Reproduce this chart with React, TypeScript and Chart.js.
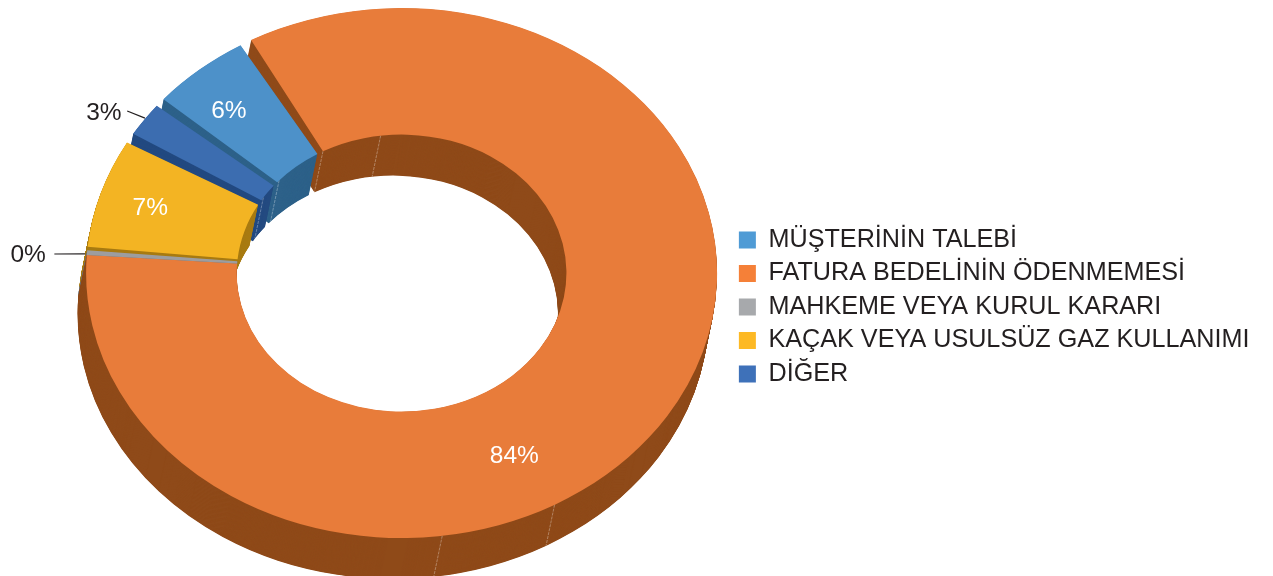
import React, { useEffect, useRef } from "react";
import { Chart, registerables } from "chart.js";

Chart.register(...registerables);

const categories = [
  "MÜŞTERİNİN TALEBİ",
  "FATURA BEDELİNİN ÖDENMEMESİ",
  "MAHKEME VEYA KURUL KARARI",
  "KAÇAK VEYA USULSÜZ GAZ KULLANIMI",
  "DİĞER",
];
const shareValues = [6, 84, 0.4, 7, 2.6];

const faceColors = ["#4d91c9", "#e87c3a", "#9d9d9f", "#f3b423", "#3c6db0"];
const wallColors = ["#2d6189", "#8f4a19", "#6f6f71", "#a87b12", "#234a80"];
const legendColors = ["#4f9bd5", "#f58038", "#a7a9ac", "#fdb924", "#3e71b9"];

// Display geometry of the tilted ring (pixels)
const CENTER_X = 401.6;
const CENTER_Y = 273;
const RADIUS_X = 315.5;
const RADIUS_Y = 265;
const DEPTH_X = -8.5;
const DEPTH_Y = 41;
const FIRST_SLICE_DEG = -50.1;

// Each slice's edges are pulled in a little, degrees: [start, end]
const sliceInsets = [
  [1.1, 2.2],
  [0, 0],
  [0, 0.44],
  [0.36, 1.04],
  [1.15, 0.8],
];

// Label places in ring coordinates: degrees clockwise from top, fraction of outer radius
const labelAngles = [-41.5, 152.4, -86.5, -72.6, -57.1];
const labelRadii = [0.826, 0.771, 1.186, 0.835, 1.124];
const labelColors = ["#ffffff", "#ffffff", "#231f20", "#ffffff", "#231f20"];
const leaderLines = [
  { angle1: -86.27, radius1: 1.103, angle2: -85.9, radius2: 1.0056 },
  { angle1: -54.9, radius1: 1.063, angle2: -54.3, radius2: 1.0016 },
];
// Thin seams on the walls: degrees, and which rim they start on
const wallSeams = [
  { angle: -7.3, rim: "inner" },
  { angle: -28.5, rim: "inner" },
  { angle: -48, rim: "inner" },
  { angle: -57, rim: "inner" },
  { angle: 151, rim: "outer" },
  { angle: 172.6, rim: "outer" },
];

const INNER_FRACTION = 0.5225;
const FONT = '"Liberation Sans", Arial, sans-serif';

function ringPoint(deg: number, fraction: number) {
  const a = ((deg - 90) * Math.PI) / 180;
  return {
    x: CENTER_X + Math.cos(a) * fraction * RADIUS_X,
    y: CENTER_Y + Math.sin(a) * fraction * RADIUS_Y,
  };
}

function applyRingTransform(ctx: CanvasRenderingContext2D, el: any) {
  ctx.translate(CENTER_X, CENTER_Y);
  ctx.scale(RADIUS_X / el.outerRadius, RADIUS_Y / el.outerRadius);
  ctx.translate(-el.x, -el.y);
}

const ringPlugin = {
  id: "ring3d",
  afterDatasetsUpdate(chart: any) {
    const arcs = chart.getDatasetMeta(0).data;
    arcs.forEach((el: any, i: number) => {
      const rad = Math.PI / 180;
      el.startAngle += sliceInsets[i][0] * rad;
      el.endAngle -= sliceInsets[i][1] * rad;
      el.circumference = el.endAngle - el.startAngle;
    });
  },
  beforeDatasetsDraw(chart: any) {
    const ctx: CanvasRenderingContext2D = chart.ctx;
    const arcs = chart.getDatasetMeta(0).data;
    const steps = Math.round(DEPTH_Y * 2);
    for (let s = steps; s >= 1; s--) {
      const t = s / steps;
      ctx.save();
      ctx.translate(DEPTH_X * t, DEPTH_Y * t);
      applyRingTransform(ctx, arcs[0]);
      arcs.forEach((el: any, i: number) => {
        const saved = el.options;
        el.options = {
          offset: 0,
          spacing: 0,
          circular: true,
          borderWidth: 0,
          borderRadius: 0,
          borderAlign: "center",
          backgroundColor: wallColors[i],
        };
        el.draw(ctx);
        el.options = saved;
      });
      ctx.restore();
    }
    ctx.save();
    ctx.strokeStyle = "rgba(255,255,255,0.4)";
    ctx.lineWidth = 0.8;
    ctx.setLineDash([3, 1]);
    wallSeams.forEach((seam) => {
      const p = ringPoint(seam.angle, seam.rim === "inner" ? INNER_FRACTION : 1);
      ctx.beginPath();
      ctx.moveTo(p.x, p.y);
      ctx.lineTo(p.x + DEPTH_X, p.y + DEPTH_Y);
      ctx.stroke();
    });
    ctx.restore();
    ctx.save();
    applyRingTransform(ctx, arcs[0]);
  },
  afterDatasetsDraw(chart: any) {
    const ctx: CanvasRenderingContext2D = chart.ctx;
    ctx.restore();
    ctx.save();
    ctx.font = `24.5px ${FONT}`;
    ctx.textAlign = "center";
    ctx.textBaseline = "middle";
    shareValues.forEach((v, i) => {
      const p = ringPoint(labelAngles[i], labelRadii[i]);
      ctx.fillStyle = labelColors[i];
      ctx.fillText(`${Math.round(v)}%`, p.x, p.y + 1.8);
    });
    ctx.strokeStyle = "#231f20";
    ctx.lineWidth = 1.2;
    leaderLines.forEach((l) => {
      const a = ringPoint(l.angle1, l.radius1);
      const b = ringPoint(l.angle2, l.radius2);
      ctx.beginPath();
      ctx.moveTo(a.x, a.y);
      ctx.lineTo(b.x, b.y);
      ctx.stroke();
    });
    ctx.restore();
  },
};

export default function App() {
  const ref = useRef<HTMLCanvasElement | null>(null);
  useEffect(() => {
    if (!ref.current) return;
    const chart = new Chart(ref.current, {
      type: "doughnut",
      plugins: [ringPlugin],
      data: {
        labels: categories,
        datasets: [
          {
            data: shareValues,
            backgroundColor: faceColors,
            borderWidth: 0,
            clip: false,
          } as any,
        ],
      },
      options: {
        responsive: false,
        animation: false,
        events: [],
        cutout: `${INNER_FRACTION * 100}%`,
        rotation: FIRST_SLICE_DEG,
        layout: { padding: { top: 38, right: 13.5, left: 0, bottom: 0 } },
        plugins: {
          tooltip: { enabled: false },
          legend: {
            position: "right",
            labels: {
              boxWidth: 17,
              boxHeight: 17,
              padding: 8.3,
              color: "#231f20",
              font: { family: FONT, size: 25.2 },
              generateLabels: () =>
                categories.map((text, i) => ({
                  text,
                  fillStyle: legendColors[i],
                  strokeStyle: legendColors[i],
                  lineWidth: 0,
                  hidden: false,
                  index: i,
                  fontColor: "#231f20",
                })),
            },
          },
        },
      },
    });
    return () => chart.destroy();
  }, []);
  return (
    <div style={{ position: "fixed", left: 0, top: 0, width: 1273, height: 576 }}>
      <canvas ref={ref} width={1273} height={576} style={{ display: "block" }} />
    </div>
  );
}
